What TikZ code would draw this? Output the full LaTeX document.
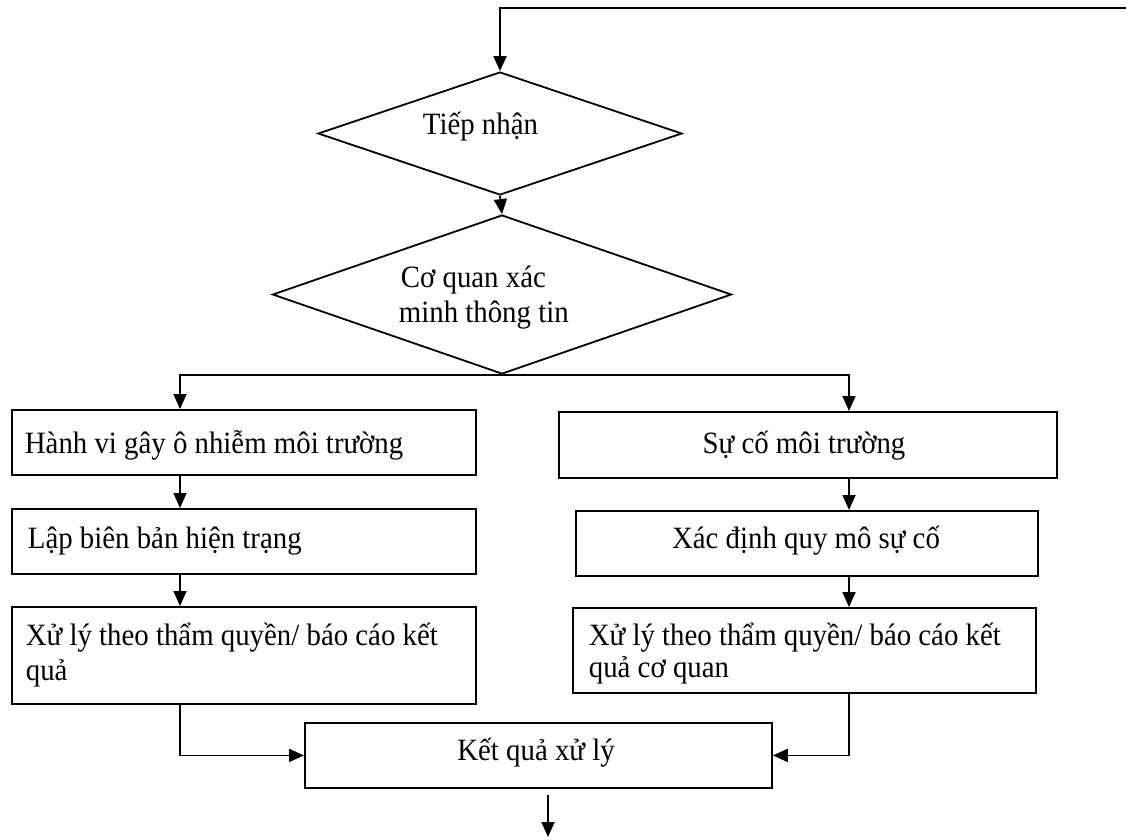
\documentclass[tikz,border=0pt]{standalone}
\usepackage{fontspec}
\setmainfont[FakeStretch=0.93]{Liberation Serif}
\usetikzlibrary{shapes.geometric,arrows.meta}
\begin{document}
\begin{tikzpicture}[x=1pt,y=-1pt, line width=1.8pt,
  box/.style={draw, rectangle, inner sep=0pt, anchor=north west},
  dia/.style={draw, diamond, inner sep=0pt},
  arr/.style={-{Triangle[length=15pt,width=13pt]}},
  txt/.style={inner sep=0pt, anchor=base west, font=\fontsize{31}{36}\selectfont},
  ctxt/.style={inner sep=0pt, anchor=base, font=\fontsize{31}{36}\selectfont}]
\useasboundingbox (0,0) rectangle (1126,839);
% diamonds
\node[dia, minimum width=364pt, minimum height=123pt] (d1) at (500,133.5) {};
\node[dia, minimum width=459pt, minimum height=159pt] (d2) at (502,294.5) {};
\node[txt] (d1t) at (422,134) {Tiếp nhận};
\node[txt] (d2a) at (400,287) {Cơ quan xác};
\node[txt] (d2b) at (398,322) {minh thông tin};
% left column
\node[box, minimum width=464pt, minimum height=65pt] (b1) at (11,409) {};
\node[box, minimum width=464pt, minimum height=65pt] (b2) at (11,508) {};
\node[box, minimum width=464pt, minimum height=97pt] (b3) at (11,606) {};
\node[txt] (b1t) at (24,453) {Hành vi gây ô nhiễm môi trường};
\node[txt] (b2t) at (27,548) {Lập biên bản hiện trạng};
\node[txt] (b3a) at (25,645) {Xử lý theo thẩm quyền/ báo cáo kết};
\node[txt] (b3b) at (25,680) {quả};
% right column
\node[box, minimum width=498pt, minimum height=66pt] (c1) at (558,411) {};
\node[box, minimum width=462pt, minimum height=65pt] (c2) at (575,510) {};
\node[box, minimum width=463pt, minimum height=85pt] (c3) at (572,607) {};
\node[ctxt] (c1t) at (804,453) {Sự cố môi trường};
\node[ctxt] (c2t) at (806,548) {Xác định quy mô sự cố};
\node[txt] (c3a) at (588,645) {Xử lý theo thẩm quyền/ báo cáo kết};
\node[txt] (c3b) at (588,677) {quả cơ quan};
% result
\node[box, minimum width=467pt, minimum height=65pt] (k) at (304,722) {};
\node[ctxt] (kt) at (536,760) {Kết quả xử lý};
% helper coordinates
\coordinate (l) at (180,0);
\coordinate (r) at (849,0);
\coordinate (tr) at (1126,8);
\coordinate (out) at (548,837);
% connectors
\draw[arr] (tr) -| (d1.north);
\draw[arr] (d1.south) -- (d2.north);
\draw[arr] (d2.south) -| (b1.north -| l);
\draw[arr] (d2.south) -| (c1.north -| r);
\draw[arr] (b1.south -| l) -- (b2.north -| l);
\draw[arr] (b2.south -| l) -- (b3.north -| l);
\draw[arr] (c1.south -| r) -- (c2.north -| r);
\draw[arr] (c2.south -| r) -- (c3.north -| r);
\draw[arr] (b3.south -| l) |- (k.west);
\draw[arr] (c3.south -| r) |- (k.east);
\draw[arr] ([yshift=-6pt]k.south -| out) -- (out);
\end{tikzpicture}
\end{document}
